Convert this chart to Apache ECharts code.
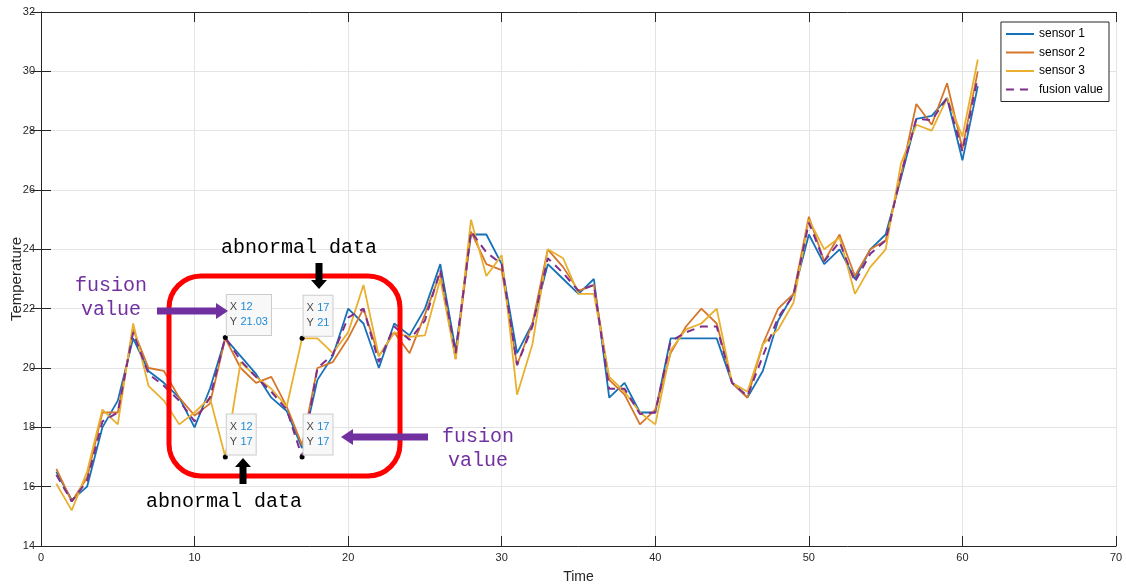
<!DOCTYPE html>
<html>
<head>
<meta charset="utf-8">
<script src="https://cdn.jsdelivr.net/npm/echarts@6/dist/echarts.min.js"></script>
<style>
html, body { margin: 0; padding: 0; background: #fff; }
#chart { width: 1126px; height: 588px; }
</style>
</head>
<body>
<div id="chart"></div>
<script>
const time = [1, 2, 3, 4, 5, 6, 7, 8, 9, 10, 11, 12, 13, 14, 15, 16, 17, 18, 19, 20,
  21, 22, 23, 24, 25, 26, 27, 28, 29, 30, 31, 32, 33, 34, 35, 36, 37, 38, 39, 40,
  41, 42, 43, 44, 45, 46, 47, 48, 49, 50, 51, 52, 53, 54, 55, 56, 57, 58, 59, 60, 61]

const sensor1 = [16.5, 15.55, 16.0, 18.0, 18.9, 21.0, 19.9, 19.5, 19.0, 18.0,
  19.3, 21.0, 20.4, 19.8, 19.0, 18.55, 17.3, 19.6, 20.4, 22.0,
  21.5, 20.0, 21.5, 21.1, 22.0, 23.5, 20.6, 24.5, 24.5, 23.5,
  20.5, 21.5, 23.5, 23.0, 22.5, 23.0, 19.0, 19.5, 18.5, 18.5,
  21.0, 21.0, 21.0, 21.0, 19.5, 19.0, 19.9, 21.6, 22.5, 24.5,
  23.5, 24.0, 23.0, 24.0, 24.5, 26.4, 28.4, 28.5, 29.1, 27.0, 29.5]

const sensor2 = [16.6, 15.5, 16.3, 18.5, 18.5, 21.3, 20.0, 19.9, 19.0, 18.4,
  18.8, 21.0, 20.0, 19.5, 19.7, 18.7, 17.4, 20.0, 20.2, 21.0,
  22.0, 20.4, 21.2, 20.5, 21.8, 23.2, 20.3, 24.6, 23.5, 23.3,
  20.1, 21.5, 24.0, 23.4, 22.6, 22.8, 19.6, 19.1, 18.1, 18.6,
  20.5, 21.4, 22.0, 21.5, 19.5, 19.0, 20.8, 22.0, 22.5, 25.1,
  23.6, 24.5, 23.1, 24.0, 24.3, 26.5, 28.9, 28.2, 29.6, 27.4, 30.0]

const sensor3 = [16.1, 15.2, 16.5, 18.6, 18.1, 21.5, 19.4, 18.9, 18.1, 18.5,
  19.0, 17.0, 20.2, 19.7, 19.3, 18.7, 21.0, 21.0, 20.5, 21.2,
  22.8, 20.4, 21.2, 21.05, 21.1, 23.0, 20.3, 25.0, 23.1, 23.8,
  19.1, 20.8, 24.0, 23.7, 22.5, 22.5, 19.7, 19.2, 18.5, 18.1,
  20.6, 21.3, 21.5, 22.0, 19.5, 19.2, 20.8, 21.3, 22.2, 25.0,
  24.0, 24.4, 22.5, 23.4, 24.0, 26.9, 28.2, 28.0, 29.1, 27.8, 30.4]

const fusion = [16.4, 15.5, 16.2, 18.2, 18.5, 21.2, 19.8, 19.4, 18.9, 18.2,
  19.0, 21.03, 20.25, 19.7, 19.2, 18.6, 17.0, 20.0, 20.45, 21.7,
  22.0, 20.2, 21.4, 20.95, 21.6, 23.3, 20.5, 24.6, 23.9, 23.5,
  20.1, 21.4, 23.7, 23.2, 22.6, 22.8, 19.3, 19.3, 18.45, 18.5,
  20.9, 21.2, 21.4, 21.4, 19.5, 19.05, 20.4, 21.7, 22.45, 24.9,
  23.6, 24.25, 22.9, 23.85, 24.3, 26.5, 28.4, 28.35, 29.1, 27.3, 29.8]

// data tips: [x, y]
const fusionTips = [[12, 21.03], [17, 17]]
const abnormalTips = [[12, 17], [17, 21]]

const AXIS = '#262626'
const GRIDLINE = '#e4e4e4'
const PURPLE = '#7030a0'

const chart = echarts.init(document.getElementById('chart'))

const pairs = (ys) => time.map((t, i) => [t, ys[i]])

function tipPoints(list) {
  return {
    symbol: 'circle',
    symbolSize: 5,
    itemStyle: { color: '#000' },
    label: {
      show: true,
      position: [4, -40],
      formatter: (p) => `{k|X} {v|${p.data.coord[0]}}\n{k|Y} {v|${p.data.coord[1]}}`,
      backgroundColor: '#f8f8f8',
      borderColor: '#cccccc',
      borderWidth: 1,
      padding: [5, 3, 5, 3],
      lineHeight: 15,
      rich: {
        k: { color: '#4a4a4a', fontSize: 11, fontFamily: 'Liberation Sans' },
        v: { color: '#1e8ad6', fontSize: 11, fontFamily: 'Liberation Sans' }
      }
    },
    data: list.map((c) => ({ coord: c }))
  }
}

function lineSeries(name, ys, color, extra) {
  return Object.assign({
    name, type: 'line', data: pairs(ys), symbol: 'none',
    lineStyle: { color, width: 1.8 }, itemStyle: { color },
    animation: false
  }, extra || {})
}

const axisCommon = {
  type: 'value',
  axisLine: { show: true, lineStyle: { color: AXIS, width: 1 } },
  axisTick: { show: true, inside: true, length: 10, lineStyle: { color: AXIS } }
}

chart.setOption({
  animation: false,
  grid: { left: 41, right: 10, top: 12, bottom: 42, containLabel: false, outerBoundsMode: 'none' },
  legend: {
    orient: 'vertical',
    right: 17, top: 22,
    backgroundColor: '#fff',
    borderColor: AXIS, borderWidth: 1,
    padding: [6, 6, 6, 4],
    itemWidth: 28, itemHeight: 11, itemGap: 6.5,
    itemStyle: { opacity: 0 },
    textStyle: { color: '#000', fontSize: 12, fontFamily: 'Liberation Sans' },
    data: ['sensor 1', 'sensor 2', 'sensor 3', 'fusion value']
  },
  xAxis: [
    Object.assign({}, axisCommon, {
      min: 0, max: 70, interval: 10,
      name: 'Time', nameLocation: 'middle', nameGap: 24, nameMoveOverlap: false,
      nameTextStyle: { color: AXIS, fontSize: 14, fontFamily: 'Liberation Sans' },
      axisLabel: { color: AXIS, fontSize: 11, margin: 6, fontFamily: 'Liberation Sans' },
      splitLine: { show: true, lineStyle: { color: GRIDLINE } }
    }),
    Object.assign({}, axisCommon, {
      position: 'top', min: 0, max: 70, interval: 10,
      axisLabel: { show: false }, splitLine: { show: false }
    })
  ],
  yAxis: [
    Object.assign({}, axisCommon, {
      min: 14, max: 32, interval: 2,
      name: 'Temperature', nameLocation: 'middle', nameGap: 17, nameMoveOverlap: false,
      nameTextStyle: { color: AXIS, fontSize: 15, fontFamily: 'Liberation Sans' },
      axisLabel: { color: AXIS, fontSize: 11, margin: 6, fontFamily: 'Liberation Sans' },
      splitLine: { show: true, lineStyle: { color: GRIDLINE } }
    }),
    Object.assign({}, axisCommon, {
      position: 'right', min: 14, max: 32, interval: 2,
      axisLabel: { show: false }, splitLine: { show: false }
    })
  ],
  series: [
    lineSeries('sensor 1', sensor1, '#1571b8'),
    lineSeries('sensor 2', sensor2, '#d5762a'),
    lineSeries('sensor 3', sensor3, '#e9b030', { markPoint: tipPoints(abnormalTips) }),
    lineSeries('fusion value', fusion, '#7e2f8e', {
      lineStyle: { color: '#7e2f8e', width: 2, type: [8, 6] },
      markPoint: tipPoints(fusionTips)
    })
  ]
})

// hand-drawn style annotations on top of the plot
function arrow(x1, y1, x2, y2, shaft, headW, headL, color) {
  const len = Math.hypot(x2 - x1, y2 - y1)
  const ux = (x2 - x1) / len, uy = (y2 - y1) / len
  const nx = -uy, ny = ux
  const bx = x2 - ux * headL, by = y2 - uy * headL
  const s = shaft / 2, h = headW / 2
  return {
    type: 'polygon', z: 100,
    shape: { points: [
      [x1 + nx * s, y1 + ny * s], [bx + nx * s, by + ny * s], [bx + nx * h, by + ny * h],
      [x2, y2],
      [bx - nx * h, by - ny * h], [bx - nx * s, by - ny * s], [x1 - nx * s, y1 - ny * s]
    ] },
    style: { fill: color }
  }
}

function note(text, x, y, color) {
  return {
    type: 'text', z: 100, x, y,
    style: {
      text, fill: color, align: 'center', verticalAlign: 'middle',
      font: '20px "Liberation Mono"', lineHeight: 24
    }
  }
}

chart.setOption({
  graphic: [
    {
      type: 'rect', z: 90,
      shape: { x: 169, y: 276, width: 231, height: 200, r: 32 },
      style: { fill: 'none', stroke: '#ff0000', lineWidth: 5 }
    },
    note('abnormal data', 299, 248, '#000'),
    note('abnormal data', 224, 502, '#000'),
    note('fusion\nvalue', 111, 298, PURPLE),
    note('fusion\nvalue', 478, 449, PURPLE),
    arrow(319, 263, 319, 289, 7, 16, 9, '#000'),
    arrow(243, 484, 243, 458, 7, 16, 9, '#000'),
    arrow(157, 311, 228, 311, 7, 16, 12, PURPLE),
    arrow(428, 437, 341, 437, 7, 16, 12, PURPLE)
  ]
})
</script>
</body>
</html>
